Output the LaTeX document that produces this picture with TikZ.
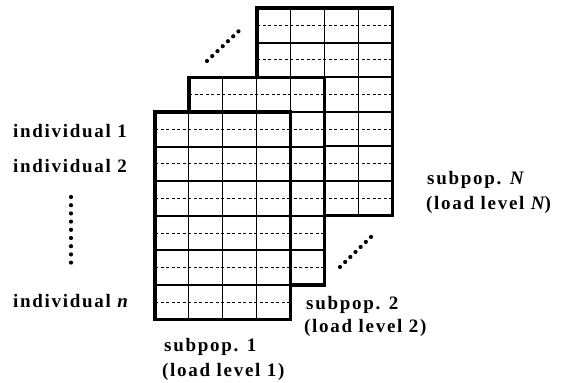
\documentclass[tikz,border=0pt]{standalone}
\usepackage{fontspec}
\setmainfont{Liberation Serif}
\tikzset{
  lbl/.style={font=\fontsize{19}{22}\selectfont\bfseries\addfontfeature{LetterSpace=9}, inner sep=0pt, anchor=west},
  gridfill/.style={fill=white, minimum width=135.6pt, minimum height=207.6pt, inner sep=0pt, outer sep=0pt, anchor=north west},
  border/.style={line width=3.2pt},
  rowline/.style={line width=2pt},
  colline/.style={line width=0.9pt},
  halfline/.style={line width=0.9pt, dash pattern=on 3pt off 2.5pt},
  dotline/.style={line width=4.2pt, line cap=round, dash pattern=on 0pt off 7.2pt},
}
\newcommand\popgrid[3]{%
  \node[gridfill] (#3) at (#1,#2) {};
  \foreach \i in {1,2,3}{\draw[colline] ({#1+\i*33.9},#2) -- ({#1+\i*33.9},{#2+207.6});}
  \foreach \j in {1,...,5}{\draw[rowline] (#1,{#2+\j*34.6}) -- ({#1+135.6},{#2+\j*34.6});}
  \foreach \j in {0,...,5}{\draw[halfline] (#1,{#2+\j*34.6+17.3}) -- ({#1+135.6},{#2+\j*34.6+17.3});}
  \draw[border] (#3.north west) rectangle (#3.south east);
}
\begin{document}
\begin{tikzpicture}[x=1pt,y=-1pt]
\useasboundingbox (0,0) rectangle (563,383);
\popgrid{257}{8}{gN}
\popgrid{189}{77.4}{g2}
\popgrid{155}{112}{g1}
% dotted connectors between layers
\coordinate (d1a) at (207,61);
\coordinate (d1b) at (242,28);
\coordinate (d2a) at (340,267);
\coordinate (d2b) at (375,233);
\draw[dotline] (d1a) -- (d1b);
\draw[dotline] (d2a) -- (d2b);
% individuals
\node[lbl] (i1) at (13,131) {individual 1};
\node[lbl] (i2) at (13,166) {individual 2};
\node[lbl] (in) at (13,301) {individual {\itshape n}};
\coordinate (v1) at (71,197);
\coordinate (v2) at (71,263);
\draw[dotline, dash pattern=on 0pt off 8.2pt] (v1) -- (v2);
% subpopulation labels
\node[lbl] (s1) at (164,347) {subpop. 1};
\node[lbl] (l1) at (162,372) {(load level 1)};
\node[lbl] (s2) at (306,305) {subpop. 2};
\node[lbl] (l2) at (304,328) {(load level 2)};
\node[lbl] (sN) at (427,180) {subpop. {\itshape N}};
\node[lbl] (lN) at (426,205) {(load level {\itshape N})};
\end{tikzpicture}
\end{document}
